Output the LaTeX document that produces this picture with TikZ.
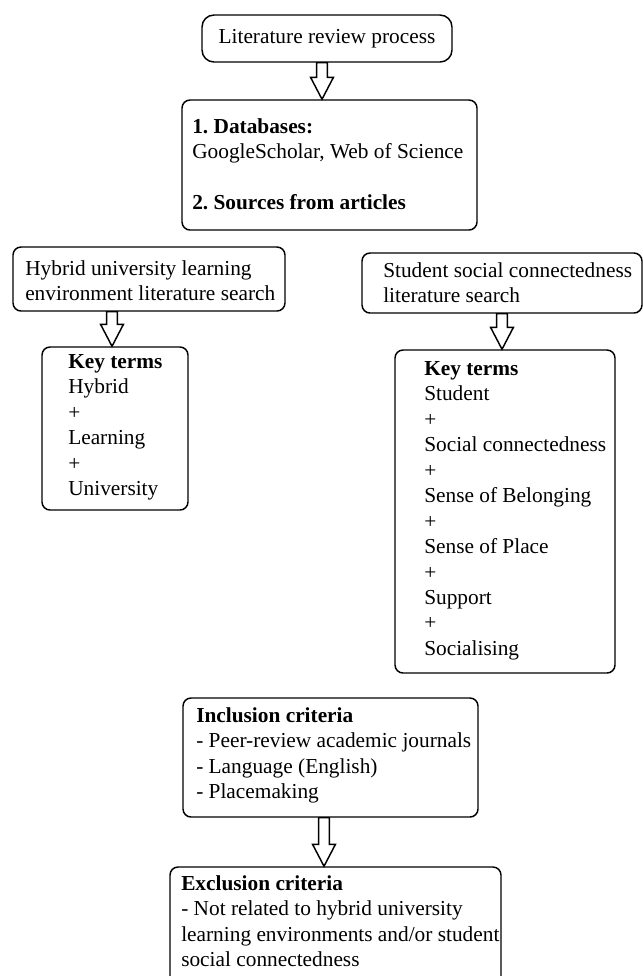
\documentclass[tikz,border=0pt]{standalone}
\usepackage{fontspec}
\setmainfont{Liberation Serif}
\usetikzlibrary{calc}
\frenchspacing
\tikzset{
  box/.style={draw, line width=1.1pt, rounded corners=6pt, minimum width=#1, inner sep=0pt},
  txt/.style={anchor=north west, inner sep=0pt, align=left, font=\fontsize{16}{19.1}\selectfont},
  barrow/.style={draw, line width=1.1pt, fill=white, line join=miter,
    to path={let \p1=(\tikztostart), \p2=(\tikztotarget) in
      (\x1-4.1pt,\y1) -- (\x1-4.1pt,\y2+16.5pt) -- (\x1-8.6pt,\y2+16.5pt) -- (\x1,\y2)
      -- (\x1+8.6pt,\y2+16.5pt) -- (\x1+4.1pt,\y2+16.5pt) -- (\x1+4.1pt,\y1) -- cycle}}
}
\begin{document}
\begin{tikzpicture}[x=0.75pt,y=-0.75pt]
\useasboundingbox (0,0) rectangle (643,976);
\clip (0,0) rectangle (643,976);
% boxes
\node[box=187.5pt, minimum height=35.25pt, rounded corners=9pt, font=\fontsize{16}{19.1}\selectfont] (b1) at (327,38.5) {Literature review process};
\node[box=221.25pt, minimum height=97.5pt] (b2) at (329.5,165) {};
\node[box=204pt, minimum height=48pt] (b3) at (149,279) {};
\node[box=109.5pt, minimum height=122.25pt] (b4) at (115,428.5) {};
\node[box=210pt, minimum height=45pt] (b5) at (502,283) {};
\node[box=165pt, minimum height=242.25pt] (b6) at (505,511.5) {};
\node[box=221.25pt, minimum height=89.25pt] (b7) at (330.5,757.5) {};
\node[box=248.25pt, minimum height=90pt] (b8) at (335.5,927) {};
% texts
\node[txt] (t2) at (192,115.2) {\strut\textbf{1. Databases:}\\GoogleScholar, Web of Science\\[19.1pt]\textbf{2. Sources from articles}};
\node[txt] (t3) at (25,257.2) {\strut Hybrid university learning\\environment literature search};
\node[txt] (t4) at (68,350.2) {\strut\textbf{Key terms}\\Hybrid\\+\\Learning\\+\\University};
\node[txt] (t5) at (383,259.2) {\strut Student social connectedness\\literature search};
\node[txt] (t6) at (424,357.2) {\strut\textbf{Key terms}\\Student\\+\\Social connectedness\\+\\Sense of Belonging\\+\\Sense of Place\\+\\Support\\+\\Socialising};
\node[txt] (t7) at (196,704.2) {\strut\textbf{Inclusion criteria}\\- Peer-review academic journals\\- Language (English)\\- Placemaking};
\node[txt] (t8) at (181,872.2) {\strut\textbf{Exclusion criteria}\\- Not related to hybrid university\\learning environments and/or student\\social connectedness};
% arrows
\draw[barrow] ($(b1.south)+(-5,0)$) to ($(b2.north)+(-7.5,0)$);
\draw[barrow] ($(b3.south)+(-37,0)$) to ($(b4.north)+(-3,0)$);
\draw[barrow] ($(b5.south)+(0,0)$) to ($(b6.north)+(-3,0)$);
\draw[barrow] ($(b7.south)+(-6.5,0)$) to ($(b8.north)+(-11.5,0)$);
\end{tikzpicture}
\end{document}
